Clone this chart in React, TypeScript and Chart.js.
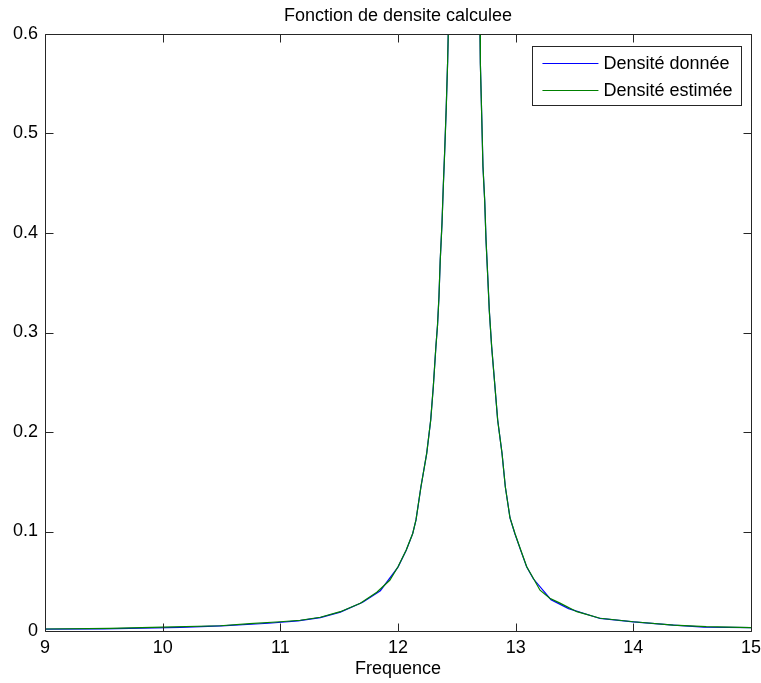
import React, { useEffect, useRef } from "react";
import { Chart, registerables } from "chart.js";

Chart.register(...registerables);

const FONT = "'Liberation Sans', Arial, sans-serif";

const titleText = "Fonction de densite calculee";
const xAxisLabel = "Frequence";
const seriesLabels = ["Densité donnée", "Densité estimée"];
const seriesColors = ["#0000ff", "#008000"];
const xTickValues = [9, 10, 11, 12, 13, 14, 15];
const yTickValues = [0, 0.1, 0.2, 0.3, 0.4, 0.5, 0.6];
const yTickLabels = ["0", "0.1", "0.2", "0.3", "0.4", "0.5", "0.6"];

// Densité estimée (green)
const estimatedX = [
  9.0, 9.55, 10.0, 10.49, 10.74, 11.0, 11.17, 11.34, 11.51, 11.68, 11.82, 11.93,
  12.0, 12.07, 12.125, 12.153, 12.195, 12.244, 12.278, 12.3, 12.322, 12.336,
  12.348, 12.359, 12.374, 12.385, 12.397, 12.41, 12.422, 12.427, 12.48, 12.56, 12.65,
  12.697, 12.7, 12.712, 12.722, 12.737, 12.748, 12.762, 12.776, 12.796,
  12.824, 12.847, 12.884, 12.912, 12.952, 12.994, 13.043, 13.094, 13.15,
  13.207, 13.29, 13.377, 13.52, 13.717, 14.0, 14.34, 14.62, 15.0,
];
const estimatedY = [
  0.002, 0.0027, 0.0038, 0.0053, 0.0075, 0.0093, 0.0108, 0.0138, 0.0194, 0.0278,
  0.039, 0.051, 0.0646, 0.0814, 0.098, 0.1116, 0.145, 0.1786, 0.212, 0.2455,
  0.2857, 0.3076, 0.3357, 0.373, 0.41, 0.447, 0.483, 0.526, 0.573, 0.6, 0.95, 1.4, 0.95,
  0.6, 0.57, 0.515, 0.467, 0.432, 0.393, 0.358, 0.322, 0.2857, 0.2455, 0.212,
  0.1786, 0.145, 0.1136, 0.098, 0.0814, 0.0646, 0.053, 0.041, 0.033, 0.028,
  0.0194, 0.0128, 0.0093, 0.006, 0.0043, 0.0033,
];

// Densité donnée (blue) – mostly hidden under the green curve
const givenX = [
  9.0, 9.5, 10.15, 10.5, 10.9, 11.15, 11.34, 11.51, 11.7, 11.85, 12.0, 12.07,
  12.125, 12.153, 12.195, 12.244, 12.278, 12.3, 12.322, 12.336, 12.348, 12.359, 12.374,
  12.385, 12.397, 12.41, 12.422, 12.427, 12.48, 12.56, 12.65, 12.697, 12.7,
  12.712, 12.722, 12.737, 12.748, 12.762, 12.776, 12.796, 12.824, 12.847,
  12.884, 12.912, 12.952, 12.994, 13.043, 13.094, 13.15, 13.3, 13.45, 13.717,
  14.0, 14.34, 14.6, 15.0,
];
const givenY = [
  0.0019, 0.0021, 0.0036, 0.0051, 0.0078, 0.0101, 0.0135, 0.019, 0.0288, 0.0405,
  0.0642, 0.0812, 0.0978, 0.1116, 0.145, 0.1786, 0.212, 0.2455, 0.2857, 0.3076, 0.3357,
  0.373, 0.41, 0.447, 0.483, 0.526, 0.573, 0.6, 0.95, 1.4, 0.95, 0.6, 0.57,
  0.515, 0.467, 0.432, 0.393, 0.358, 0.322, 0.2857, 0.2455, 0.212, 0.1786,
  0.145, 0.1136, 0.0975, 0.081, 0.0642, 0.0525, 0.0315, 0.0225, 0.0126, 0.0092,
  0.0059, 0.0039, 0.0033,
];

const toPoints = (xs: number[], ys: number[]) => xs.map((x, i) => ({ x, y: ys[i] }));

const framePlugin = {
  id: "matlabFrame",
  afterDatasetsDraw(chart: any) {
    const { ctx, chartArea } = chart;
    const { left, right, top, bottom } = chartArea;
    const xs = chart.scales.x;
    const ys = chart.scales.y;
    const L = Math.round(left) + 0.5;
    const R = Math.round(right) + 0.5;
    const T = Math.round(top) + 0.5;
    const B = Math.round(bottom) + 0.5;
    const tick = 8;
    ctx.save();
    ctx.strokeStyle = "#262626";
    ctx.lineWidth = 1;
    ctx.beginPath();
    ctx.moveTo(L, T);
    ctx.lineTo(R, T);
    ctx.lineTo(R, B);
    ctx.lineTo(L, B);
    ctx.closePath();
    xTickValues.forEach((v) => {
      const px = Math.round(xs.getPixelForValue(v)) + 0.5;
      ctx.moveTo(px, B);
      ctx.lineTo(px, B - tick);
      ctx.moveTo(px, T);
      ctx.lineTo(px, T + tick);
    });
    yTickValues.forEach((v) => {
      const py = Math.round(ys.getPixelForValue(v)) + 0.5;
      ctx.moveTo(L, py);
      ctx.lineTo(L + tick, py);
      ctx.moveTo(R, py);
      ctx.lineTo(R - tick, py);
    });
    ctx.stroke();

    // legend box
    ctx.font = `18px ${FONT}`;
    const datasets = chart.data.datasets;
    let maxW = 0;
    datasets.forEach((d: any) => {
      maxW = Math.max(maxW, ctx.measureText(d.label).width);
    });
    const boxR = R - 10;
    const boxT = T + 12;
    const boxW = 71 + maxW + 9;
    const boxH = 59;
    const boxL = boxR - boxW;
    ctx.fillStyle = "#ffffff";
    ctx.fillRect(boxL, boxT, boxW, boxH);
    ctx.strokeStyle = "#262626";
    ctx.strokeRect(Math.round(boxL) + 0.5, boxT, Math.round(boxW), boxH);
    datasets.forEach((d: any, i: number) => {
      const yy = Math.round(boxT + 16 + i * 27) + 0.5;
      ctx.strokeStyle = d.borderColor;
      ctx.lineWidth = 1.2;
      ctx.beginPath();
      ctx.moveTo(boxL + 10, yy);
      ctx.lineTo(boxL + 66, yy);
      ctx.stroke();
      ctx.fillStyle = "#000000";
      ctx.textBaseline = "middle";
      ctx.textAlign = "left";
      ctx.fillText(d.label, boxL + 71, yy + 1);
    });
    ctx.restore();
  },
};

export default function App() {
  const canvasRef = useRef<HTMLCanvasElement | null>(null);

  useEffect(() => {
    if (!canvasRef.current) return;
    const chart = new Chart(canvasRef.current, {
      type: "line",
      data: {
        datasets: [
          {
            label: seriesLabels[0],
            data: toPoints(givenX, givenY),
            borderColor: seriesColors[0],
            backgroundColor: seriesColors[0],
            borderWidth: 1.2,
            pointRadius: 0,
            tension: 0,
            order: 1,
          },
          {
            label: seriesLabels[1],
            data: toPoints(estimatedX, estimatedY),
            borderColor: seriesColors[1],
            backgroundColor: seriesColors[1],
            borderWidth: 1.2,
            pointRadius: 0,
            tension: 0,
            order: 0,
          },
        ],
      },
      options: {
        animation: false,
        responsive: false,
        parsing: false as any,
        layout: { padding: { left: 0, right: 10, top: 0, bottom: 0 } },
        plugins: {
          legend: { display: false },
          tooltip: { enabled: false },
          title: {
            display: true,
            text: titleText,
            fullSize: false,
            color: "#000000",
            font: { family: FONT, size: 18, weight: "normal", lineHeight: "22px" },
            padding: { top: 5, bottom: 7 },
          },
        },
        scales: {
          x: {
            type: "linear",
            min: 9,
            max: 15,
            grid: { display: false, drawTicks: false },
            border: { display: false },
            afterBuildTicks: (s: any) => {
              s.ticks = xTickValues.map((v) => ({ value: v }));
            },
            afterFit: (s: any) => {
              s.height = 52;
              s.paddingLeft = 0;
              s.paddingRight = 0;
            },
            ticks: {
              color: "#000000",
              font: { family: FONT, size: 18 },
              padding: 6,
              maxRotation: 0,
              autoSkip: false,
              callback: (v: any) => String(v),
            },
            title: {
              display: true,
              text: xAxisLabel,
              color: "#000000",
              font: { family: FONT, size: 18, lineHeight: 1.2 },
              padding: { top: 0, bottom: 3 },
            },
          },
          y: {
            type: "linear",
            min: 0,
            max: 0.6,
            grid: { display: false, drawTicks: false },
            border: { display: false },
            afterBuildTicks: (s: any) => {
              s.ticks = yTickValues.map((v) => ({ value: v }));
            },
            afterFit: (s: any) => {
              s.width = 45;
              s.paddingTop = 0;
              s.paddingBottom = 0;
            },
            ticks: {
              color: "#000000",
              font: { family: FONT, size: 18 },
              padding: 7,
              autoSkip: false,
              callback: (v: any) => {
                const i = yTickValues.indexOf(v);
                return i >= 0 ? yTickLabels[i] : String(v);
              },
            },
          },
        },
      },
      plugins: [framePlugin],
    });
    return () => chart.destroy();
  }, []);

  return (
    <div style={{ position: "absolute", left: 0, top: 0, width: 761, height: 683, background: "#fff" }}>
      <canvas ref={canvasRef} width={761} height={683} style={{ display: "block" }} />
    </div>
  );
}
